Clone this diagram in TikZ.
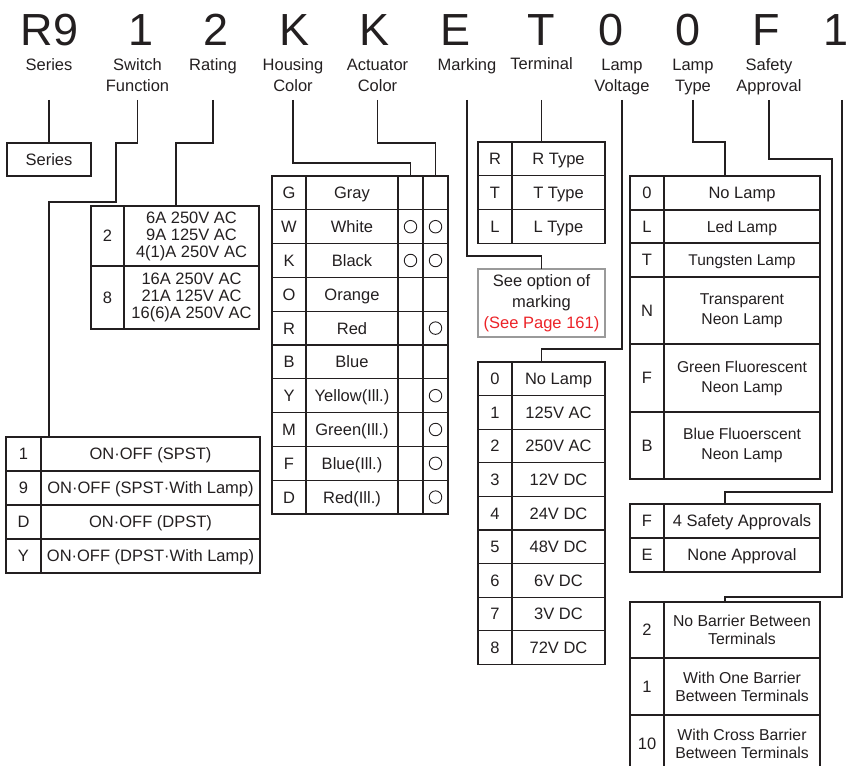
\documentclass[tikz,border=0pt]{standalone}
\usepackage{fontspec}
\setmainfont{Liberation Sans}
\usetikzlibrary{positioning}
\definecolor{cLine}{HTML}{231F20}
\definecolor{cRef} {HTML}{EC2328}
\definecolor{cBox} {HTML}{9A9A9A}
\newcommand{\tabfont}{\fontsize{16.5}{17}\selectfont}
\tikzset{
  wire/.style ={draw=cLine,line width=1.1pt},
  cel/.style  ={draw=cLine,line width=1.1pt,inner sep=0pt,text=cLine,font=\tabfont,
                text height=11.8pt,text depth=0pt},
  mcel/.style ={draw=cLine,line width=1.1pt,inner sep=0pt,text=cLine,align=center,
                font=\tabfont},
  big/.style  ={anchor=base,inner sep=0pt,text=cLine,font=\fontsize{45}{45}\selectfont},
  hdr/.style  ={anchor=north,inner sep=0pt,text=cLine,align=center,
                font=\fontsize{16.5}{21}\selectfont},
  sel/.style  ={circle,draw=cLine,line width=0.9pt,minimum size=12.5,inner sep=0pt},
}
\begin{document}
\begin{tikzpicture}[x=1pt,y=-1pt,every node/.style={outer sep=0pt}]
\useasboundingbox (0,0) rectangle (850,765);

% ---- part number ----------------------------------------------------------
\foreach \n/\x/\t in {cSr/49.5/R9,cSw/141/1,cRt/216/2,cHc/295/K,cAc/375/K,cMk/455/E,
                      cTm/541.5/T,cLv/611.5/0,cLt/688.5/0,cSa/766.5/F,cBr/836/1}
  \node[big] (\n) at (\x,46) {\t};

\foreach \n/\x/\y/\t in {hSeries/49/59/Series,hSwitch/137.5/59/{Switch\\Function},
                         hRating/213/59/Rating,hHousing/293/59/{Housing\\Color},
                         hActuator/377.5/59/{Actuator\\Color},hMarking/467/59/Marking,
                         hTerminal/541.5/57.5/Terminal,hVoltage/622/59/{Lamp\\Voltage},
                         hLampType/693/59/{Lamp\\Type},hSafety/769/59/{Safety\\Approval}}
  \node[hdr] (\n) at (\x,\y) {\t};
\coordinate (top) at (0,100);
\coordinate (brTop) at (842,100);

% ---- series / switch function / rating ------------------------------------
\node[cel,minimum width=84,minimum height=33] (series) at (49,159.5) {Series};

\foreach \k/\c/\t in {0/1/ON·OFF (SPST),1/9/ON·OFF (SPST·With Lamp),
                      2/D/ON·OFF (DPST),3/Y/ON·OFF (DPST·With Lamp)}{
  \node[cel,minimum width=35,minimum height=34] (swC\k) at (23.5,454+34*\k) {\c};
  \node[cel,minimum width=219,minimum height=34] (swT\k) at (150.5,454+34*\k) {\t};
}

\node[cel,minimum width=33,minimum height=60] (rtC0) at (107.5,236) {2};
\node[mcel,minimum width=135,minimum height=60] (rtT0) at (191.5,236)
  {6A 250V AC\\9A 125V AC\\4(1)A 250V AC};
\node[cel,line width=1.6pt,minimum width=33,minimum height=63] (rtC1) at (107.5,297.5) {8};
\node[mcel,line width=1.6pt,minimum width=135,minimum height=63] (rtT1) at (191.5,297.5)
  {16A 250V AC\\21A 125V AC\\16(6)A 250V AC};

% ---- housing / actuator color ---------------------------------------------
\foreach \k/\c/\t/\h/\a in {0/G/Gray/0/0,1/W/White/1/1,2/K/Black/1/1,3/O/Orange/0/0,
                            4/R/Red/0/1,5/B/Blue/0/0,6/Y/Yellow(Ill.)/0/1,
                            7/M/Green(Ill.)/0/1,8/F/Blue(Ill.)/0/1,9/D/Red(Ill.)/0/1}{
  \node[cel,minimum width=34,minimum height=33.8] (clC\k) at (289,192.9+33.8*\k) {\c};
  \node[cel,minimum width=92,minimum height=33.8] (clT\k) at (352,192.9+33.8*\k) {\t};
  \node[cel,minimum width=25,minimum height=33.8] (hk\k) at (410.5,192.9+33.8*\k) {};
  \node[cel,minimum width=25,minimum height=33.8] (ak\k) at (435.5,192.9+33.8*\k) {};
  \ifnum\h=1 \node[sel] (hs\k) at (hk\k) {}; \fi
  \ifnum\a=1 \node[sel] (as\k) at (ak\k) {}; \fi
}

% ---- marking / terminal / lamp voltage ------------------------------------
\foreach \k/\c/\t in {0/R/R Type,1/T/T Type,2/L/L Type}{
  \node[cel,minimum width=34,minimum height=33.7] (tmC\k) at (495,158.8+33.7*\k) {\c};
  \node[cel,minimum width=93,minimum height=33.7] (tmT\k) at (558.5,158.8+33.7*\k) {\t};
}

\node[mcel,draw=cBox,minimum width=127,minimum height=68,
      font=\fontsize{16.5}{21}\selectfont] (mkBox) at (541.5,303)
  {See option of\\marking\\\textcolor{cRef}{(See Page 161)}};

\foreach \k/\c/\t in {0/0/No Lamp,1/1/125V AC,2/2/250V AC,3/3/12V DC,4/4/24V DC,
                      5/5/48V DC,6/6/6V DC,7/7/3V DC,8/8/72V DC}{
  \node[cel,minimum width=34,minimum height=33.6] (lvC\k) at (495,378.8+33.6*\k) {\c};
  \node[cel,minimum width=93,minimum height=33.6] (lvT\k) at (558.5,378.8+33.6*\k) {\t};
}

% ---- lamp type / safety approval / barrier --------------------------------
\foreach \k/\c/\t/\y/\h/\fs in {0/0/No Lamp/193/34/16.5,1/L/Led Lamp/226.5/33/15.8,
                                2/T/Tungsten Lamp/260/34/15.5}{
  \node[cel,minimum width=34,minimum height=\h] (ltC\k) at (647,\y) {\c};
  \node[cel,minimum width=156,minimum height=\h,font=\fontsize{\fs}{18}\selectfont]
    (ltT\k) at (742,\y) {\t};
}
\foreach \k/\c/\t/\y/\h in {3/N/{Transparent\\Neon Lamp}/310.5/67,
                            4/F/{Green Fluorescent\\Neon Lamp}/378/68,
                            5/B/{Blue Fluoerscent\\Neon Lamp}/445.5/67}{
  \node[cel,minimum width=34,minimum height=\h] (ltC\k) at (647,\y) {\c};
  \node[mcel,minimum width=156,minimum height=\h,font=\fontsize{15.7}{20}\selectfont]
    (ltT\k) at (742,\y) {\t};
}

\foreach \k/\c/\t in {0/F/4 Safety Approvals,1/E/None Approval}{
  \node[cel,minimum width=34,minimum height=34] (saC\k) at (647,521+34*\k) {\c};
  \node[cel,minimum width=156,minimum height=34] (saT\k) at (742,521+34*\k) {\t};
}

\foreach \k/\c/\t/\y/\h in {0/2/{No Barrier Between\\Terminals}/630/56,
                            1/1/{With One Barrier\\Between Terminals}/686.5/57,
                            2/10/{With Cross Barrier\\Between Terminals}/743.5/57}{
  \node[cel,minimum width=34,minimum height=\h] (brC\k) at (647,\y) {\c};
  \node[mcel,minimum width=156,minimum height=\h,font=\fontsize{15.8}{18}\selectfont]
    (brT\k) at (742,\y) {\t};
}

% ---- leaders --------------------------------------------------------------
\draw[wire] (hSeries |- top) -- (series.north);
\draw[wire] (hSwitch |- top) |- (116,143) |- (49,202) -- (swT0.north -| 49,0);
\draw[wire] (hRating |- top) |- (176,143) -- (rtT0.north -| 176,0);
\draw[wire] (hHousing |- top) |- (hk0.north |- 0,163) -- (hk0.north);
\draw[wire] (hActuator |- top) |- (ak0.north |- 0,143) -- (ak0.north);
\draw[wire] (hMarking |- top) |- (mkBox.north |- 0,256) -- (mkBox.north);
\draw[wire] (hTerminal |- top) -- (hTerminal |- tmT0.north);
\draw[wire] (hVoltage |- top) |- (hTerminal |- 0,349) -- (hTerminal |- lvT0.north);
\draw[wire] (hLampType |- top) |- (725,142) -- (ltT0.north -| 725,0);
\draw[wire] (hSafety |- top) |- (832,159) |- (725,492) -- (saT0.north -| 725,0);
\draw[wire] (brTop) |- (725,597) -- (brT0.north -| 725,0);
\end{tikzpicture}
\end{document}
